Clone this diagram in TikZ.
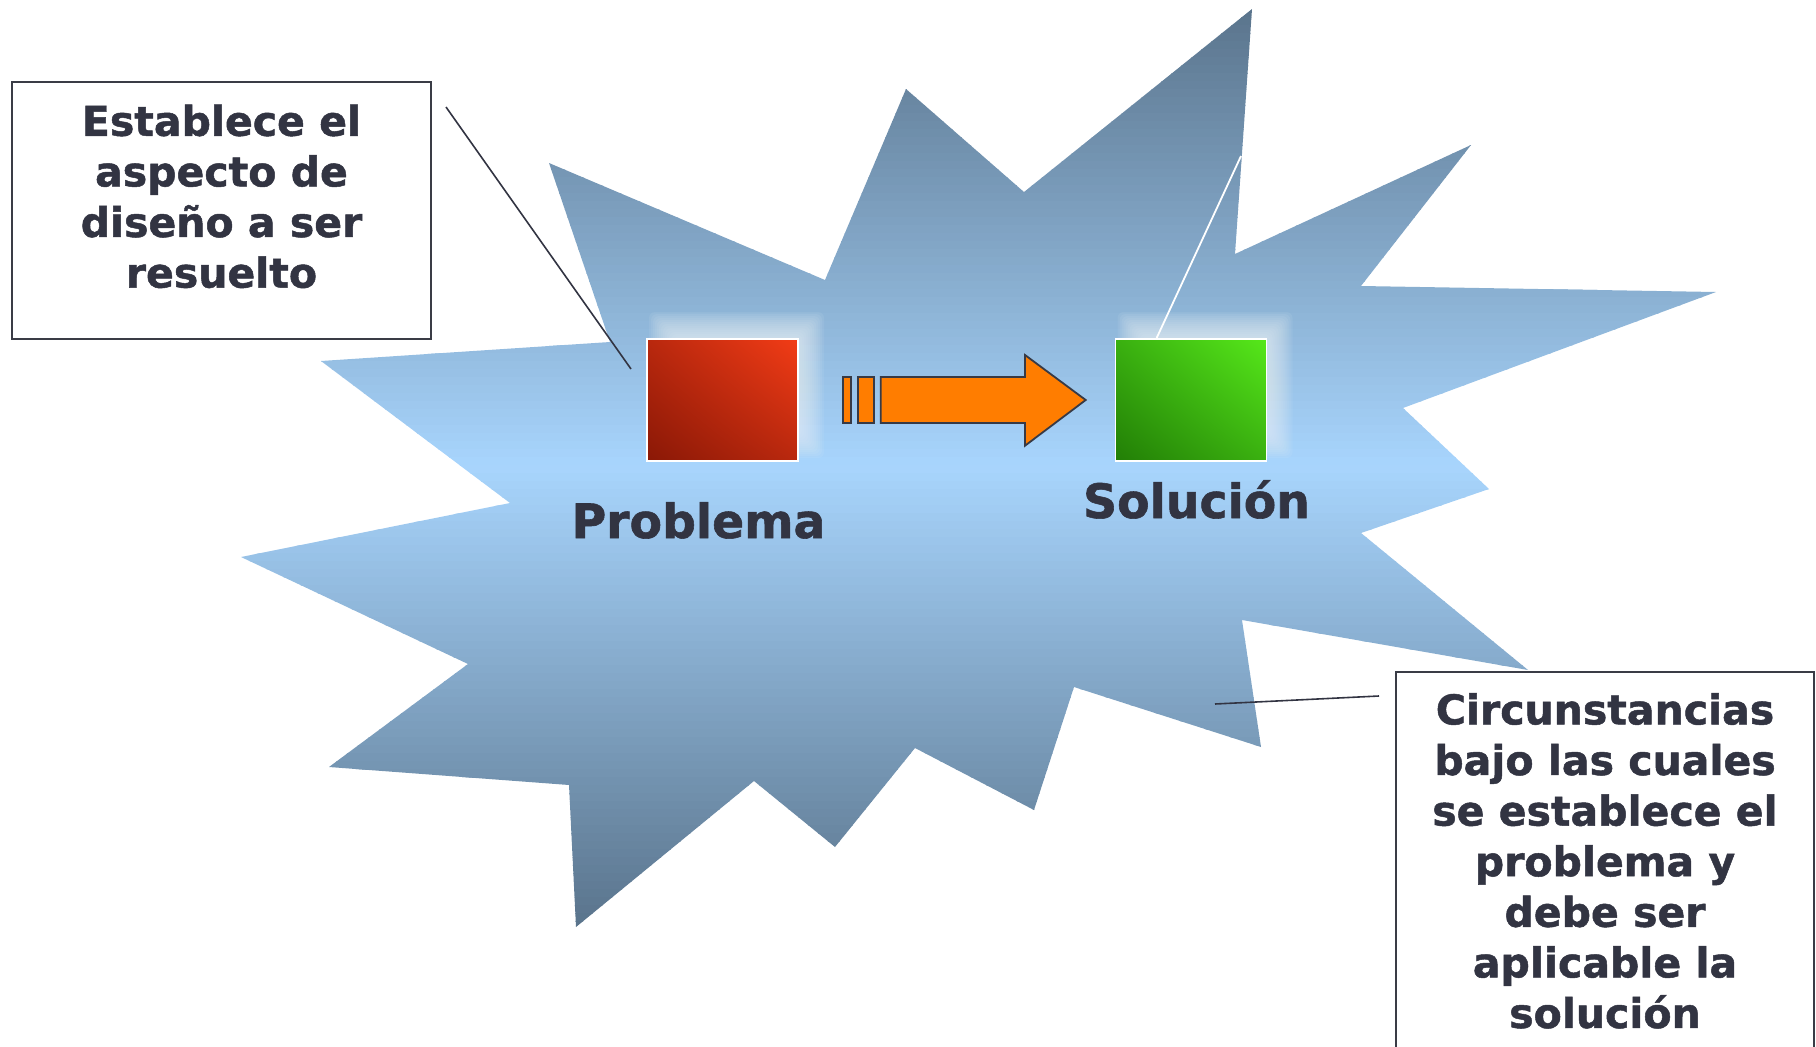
\documentclass[tikz,border=0pt]{standalone}
\usepackage{fontspec}
\setmainfont{DejaVu Sans}[BoldFeatures={FakeBold=1.2}]
\usetikzlibrary{calc,shadings}

\definecolor{textdark}{RGB}{50,52,66}
\definecolor{boxline}{RGB}{58,60,70}
\definecolor{stardark}{RGB}{90,116,140}
\definecolor{starlight}{RGB}{168,213,253}
\definecolor{redlow}{RGB}{138,24,6}
\definecolor{redmid}{RGB}{185,40,14}
\definecolor{redhigh}{RGB}{242,60,22}
\definecolor{greenlow}{RGB}{34,126,6}
\definecolor{greenmid}{RGB}{58,176,16}
\definecolor{greenhigh}{RGB}{86,232,26}
\definecolor{arroworange}{RGB}{255,125,0}
\definecolor{arrowline}{RGB}{55,58,70}
\definecolor{glowcol}{RGB}{232,240,244}

\begin{document}
\begin{tikzpicture}[x=1pt,y=-1pt,
  notetext/.style={text=textdark, font=\bfseries\fontsize{41}{50.6}\selectfont,
    align=center, inner sep=0pt},
  caption/.style={text=textdark, font=\bfseries\fontsize{47.3}{56}\selectfont,
    inner sep=0pt, anchor=base},
  notebox/.style={draw=boxline, line width=1.8pt, fill=white, inner sep=0pt},
  square/.style={draw=white, line width=1.8pt, inner sep=0pt,
    minimum width=151pt, minimum height=122pt},
  redsq/.style={square, lower left=redlow, upper right=redhigh,
    upper left=redmid, lower right=redmid},
  greensq/.style={square, lower left=greenlow, upper right=greenhigh,
    upper left=greenmid, lower right=greenmid},
  blockarrow/.style={fill=arroworange, draw=arrowline, line width=1.8pt, line join=miter},
  leader/.style={draw=textdark, line width=1.6pt},
  glow/.style={fill=glowcol, fill opacity=0.085, draw=none, rounded corners=6pt}
]
\clip (0,0) rectangle (1816,1047);

% explosion background: vertical gradient, light in the middle, dark at both ends
\begin{scope}
  \clip (549,163) -- (825,280) -- (906,89) -- (1024,192) -- (1252,9) -- (1235,254)
    -- (1471,145) -- (1361,286) -- (1716,292) -- (1403,408) -- (1489,489)
    -- (1361,533) -- (1528,670) -- (1242,620) -- (1261,747) -- (1074,687)
    -- (1034,810) -- (915,748) -- (835,847) -- (754,781) -- (576,927)
    -- (569,785) -- (329,767) -- (468,664) -- (241,557) -- (510,503)
    -- (321,361) -- (610,342) -- cycle;
  \foreach \i in {0,...,115} {
    \pgfmathsetmacro\yy{9+8*\i}
    \pgfmathsetmacro\gradt{min(100,abs(\yy+4-466)/458*100)}
    \fill[stardark!\gradt!starlight] (200,\yy) rectangle (1730,\yy+9);
  }
\end{scope}

% soft halos behind the two squares
\foreach \cx/\cy in {736.5/385, 1205/385} {
  \foreach \g in {-12,-10,...,12} {
    \fill[glow] (\cx-75.5-\g, \cy-61-\g) rectangle (\cx+75.5+\g, \cy+61+\g);
  }
}

% problem and solution squares
\node[redsq] (prob) at (722.5,400) {};
\node[greensq] (sol) at (1191,400) {};

\node[caption] (plabel) at (698.5,538) {Problema};
\node[caption] (slabel) at (1196.5,518) {Solución};

% block arrow from problem to solution
\draw[blockarrow] (843.3,377) rectangle (850.9,423);
\draw[blockarrow] (858,377) rectangle (874,423);
\draw[blockarrow] (880.8,377) -- (1025,377) -- (1025,355) -- (1085.7,400)
  -- (1025,445.7) -- (1025,423) -- (880.8,423) -- cycle;

% white leader from the solution square
\coordinate (wtop) at (1241,156);
\draw[white, line width=1.8pt] ($(sol.north west)+(42,0)$) -- (wtop);

% note boxes
\node[notebox, minimum width=419pt, minimum height=257pt] (lbox) at (221.5,210.5) {};
\node[notetext] (ltext) at (221.5,196.4) {Establece el\\aspecto de\\diseño a ser\\resuelto};

\node[notebox, minimum width=418pt, minimum height=390pt] (rbox) at (1605,867) {};
\node[notetext] (rtext) at (1605,860.9) {Circunstancias\\bajo las cuales\\se establece el\\problema y\\debe ser\\aplicable la\\solución};

% leaders of the notes
\coordinate (lstart) at (446,107);
\coordinate (lend) at (631,369);
\draw[leader] (lstart) -- (lend);
\coordinate (rstart) at (1379,696);
\coordinate (rend) at (1215,704);
\draw[leader] (rstart) -- (rend);
\end{tikzpicture}
\end{document}
